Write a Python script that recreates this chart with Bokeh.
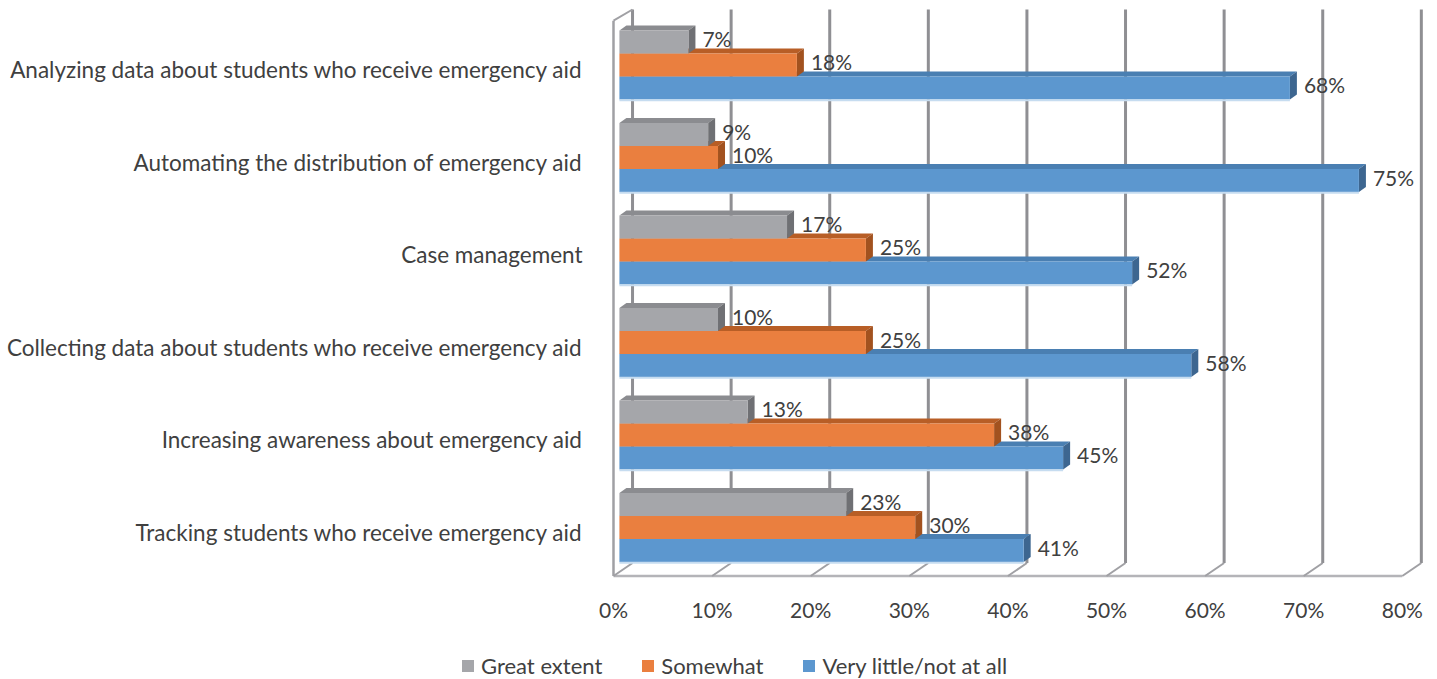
from bokeh.plotting import figure
from bokeh.models import FixedTicker, Legend, LegendItem, Range1d, PrintfTickFormatter
from bokeh.embed import file_html
from bokeh.resources import INLINE
from bokeh.core.properties import value

# ---------------- data ----------------
categories = [
    "Analyzing data about students who receive emergency aid",
    "Automating the distribution of emergency aid",
    "Case management",
    "Collecting data about students who receive emergency aid",
    "Increasing awareness about emergency aid",
    "Tracking students who receive emergency aid",
]
great_extent = [7, 9, 17, 10, 13, 23]
somewhat = [18, 10, 25, 25, 38, 30]
very_little = [68, 75, 52, 58, 45, 41]
series_names = ["Great extent", "Somewhat", "Very little/not at all"]
x_ticks = [0, 10, 20, 30, 40, 50, 60, 70, 80]

# ---------------- styles ----------------
FONT = "Lato"
TXT = "#404040"
front_colors = {"Great extent": "#a5a6aa", "Somewhat": "#ea7f3f", "Very little/not at all": "#5c97cf"}
top_colors = {"Great extent": "#8b8c90", "Somewhat": "#b85e26", "Very little/not at all": "#4a7fb2"}
side_colors = {"Great extent": "#6f7074", "Somewhat": "#a2521f", "Very little/not at all": "#3d6690"}

# 3-D geometry (data units)
BAR_X0 = 0.6       # depth offset of bar front faces
GROUP_DY = 0.054   # depth offset of bar groups
BAR_H = 0.2486
DX, DY = 0.71, 0.054
BACK_DX, BACK_DY = 1.93, 0.1405
FLOOR_Y = -0.4703
WALL_TOP = 5.654
LABEL_DY = 0.035

p = figure(width=1437, height=640, output_backend="svg", toolbar_location=None,
           x_range=Range1d(-1.318, 82.86), y_range=Range1d(-0.519, 5.708),
           min_border_left=600, min_border_right=7, min_border_top=4, min_border_bottom=60)
p.outline_line_color = None
p.xgrid.visible = False
p.ygrid.visible = False
p.background_fill_color = "white"
p.border_fill_color = "white"

# ---------------- walls / gridlines ----------------
wall_col = "#8f8f93"
p.segment(x0=[t + BACK_DX for t in x_ticks], y0=[FLOOR_Y + BACK_DY] * len(x_ticks),
          x1=[t + BACK_DX for t in x_ticks], y1=[WALL_TOP] * len(x_ticks),
          line_color=wall_col, line_width=3)
# floor
p.segment(x0=[x_ticks[0]], y0=[FLOOR_Y], x1=[x_ticks[-1]], y1=[FLOOR_Y], line_color="#b4b4b8", line_width=2.5)
p.segment(x0=x_ticks, y0=[FLOOR_Y] * len(x_ticks),
          x1=[t + BACK_DX for t in x_ticks], y1=[FLOOR_Y + BACK_DY] * len(x_ticks),
          line_color="#a0a0a4", line_width=2)
# left wall
p.segment(x0=[x_ticks[0]], y0=[FLOOR_Y], x1=[x_ticks[0]], y1=[WALL_TOP - BACK_DY + 0.02],
          line_color="#a0a0a4", line_width=2.5)
p.segment(x0=[x_ticks[0]], y0=[WALL_TOP - BACK_DY + 0.02], x1=[x_ticks[0] + BACK_DX], y1=[WALL_TOP],
          line_color="#a0a0a4", line_width=2)

# ---------------- bars ----------------
series_vals = {"Great extent": great_extent, "Somewhat": somewhat, "Very little/not at all": very_little}
offsets = {"Great extent": BAR_H, "Somewhat": 0.0, "Very little/not at all": -BAR_H}
n = len(categories)
ypos = [n - 1 - i for i in range(n)]

for s in reversed(series_names):
    vals = series_vals[s]
    left = [BAR_X0] * n
    right = [v + BAR_X0 for v in vals]
    bottom = [y + GROUP_DY + offsets[s] - BAR_H / 2 for y in ypos]
    top = [y + GROUP_DY + offsets[s] + BAR_H / 2 for y in ypos]
    # top faces
    p.patches(xs=[[l, r, r + DX, l + DX] for l, r in zip(left, right)],
              ys=[[t, t, t + DY, t + DY] for t in top],
              fill_color=top_colors[s], line_color=None)
    # side faces
    p.patches(xs=[[r, r + DX, r + DX, r] for r in right],
              ys=[[b, b + DY, t + DY, t] for b, t in zip(bottom, top)],
              fill_color=side_colors[s], line_color=None)
    # front faces
    p.quad(left=left, right=right, bottom=bottom, top=top,
           fill_color=front_colors[s], line_color=None)
    if s == "Very little/not at all":
        p.segment(x0=left, y0=[b - 0.008 for b in bottom], x1=right, y1=[b - 0.008 for b in bottom],
                  line_color="#c6dcf0", line_width=2)
    # value labels
    p.text(x=right, y=[(b + t) / 2 + LABEL_DY for b, t in zip(bottom, top)],
           text=[f"{v}%" for v in vals], x_offset=14,
           text_font=value(FONT), text_font_size="21px", text_color=TXT,
           text_baseline="middle", text_align="left")

# ---------------- axes ----------------
p.xaxis.ticker = FixedTicker(ticks=x_ticks)
p.xaxis.formatter = PrintfTickFormatter(format="%d%%")
p.yaxis.ticker = FixedTicker(ticks=ypos)
p.yaxis.major_label_overrides = {y: c for y, c in zip(ypos, categories)}
for ax in (p.xaxis, p.yaxis):
    ax.axis_line_color = None
    ax.major_tick_line_color = None
    ax.minor_tick_line_color = None
    ax.major_label_text_font = FONT
    ax.major_label_text_color = TXT
p.xaxis.major_label_text_font_size = "21px"
p.yaxis.major_label_text_font_size = "22.5px"
p.xaxis.major_label_standoff = 10
p.yaxis.major_label_standoff = 12

# ---------------- legend (own strip below the chart, separate root) ----------------
lg = figure(width=1437, height=39, output_backend="svg", toolbar_location=None,
            x_range=Range1d(0, 1437), y_range=Range1d(0, 39),
            min_border_left=0, min_border_right=0, min_border_top=0, min_border_bottom=0)
lg.axis.visible = False
lg.grid.visible = False
lg.outline_line_color = None
items = []
for s in series_names:
    r = lg.quad(left=[-20], right=[-10], bottom=[-20], top=[-10],
                fill_color=front_colors[s], line_color=None)
    items.append(LegendItem(label=s, renderers=[r]))
legend = Legend(items=items, orientation="horizontal", location=(460, 0),
                glyph_width=15, glyph_height=15, label_standoff=6, spacing=38, label_height=24,
                padding=0, margin=0, border_line_color=None, background_fill_alpha=0,
                label_text_font=FONT, label_text_font_size="22px", label_text_color=TXT)
lg.add_layout(legend, "center")

open("out.html", "w").write(file_html([p, lg], INLINE))
